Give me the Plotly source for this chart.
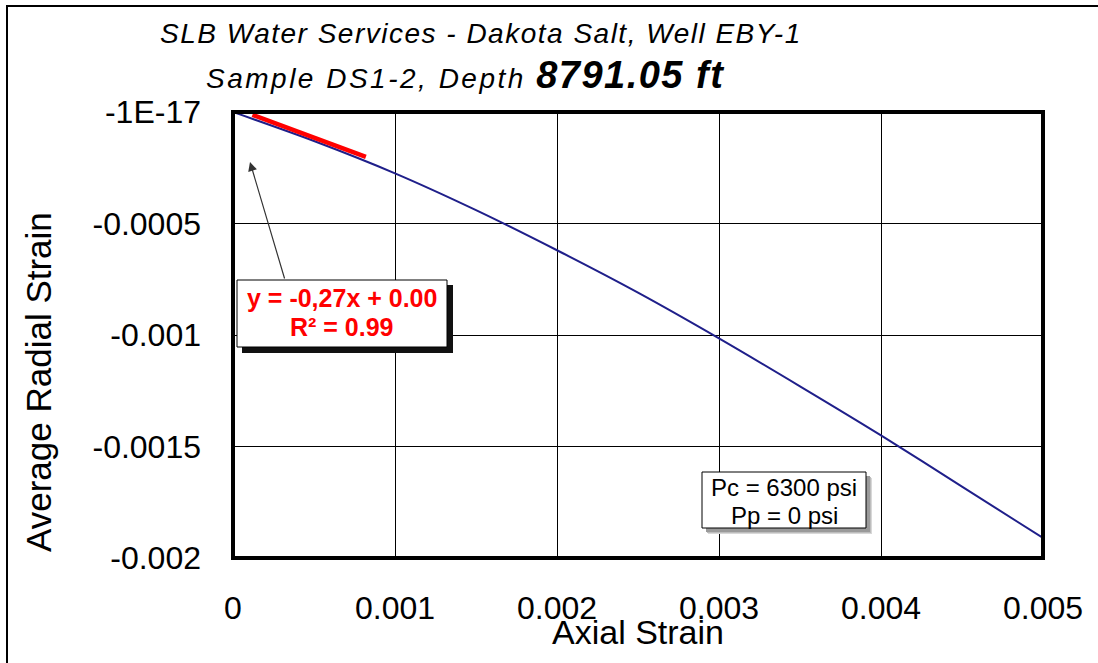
import plotly.graph_objects as go

# ---- data -------------------------------------------------------------
axial_strain = [0.0, 0.0005, 0.001, 0.0015, 0.002, 0.0025, 0.003, 0.0035, 0.004, 0.0045, 0.005]
radial_strain = [0.0, -0.00013, -0.000275, -0.00044, -0.00062, -0.00081, -0.001015,
                 -0.00123, -0.00145, -0.00168, -0.00191]

# linear fit over the initial portion of the curve
fit_slope = -0.27
fit_intercept = 0.00002
fit_x = [0.00012, 0.00082]
fit_y = [fit_slope * x + fit_intercept for x in fit_x]

x_ticks = [0, 0.001, 0.002, 0.003, 0.004, 0.005]
x_ticktext = ["0", "0.001", "0.002", "0.003", "0.004", "0.005"]
y_ticks = [0, -0.0005, -0.001, -0.0015, -0.002]
y_ticktext = ["-1E-17", "-0.0005", "-0.001", "-0.0015", "-0.002"]

# ---- layout helpers ---------------------------------------------------
W, H = 1098, 663
L, R, T, B = 233, 55, 112, 105
PW, PH = W - L - R, H - T - B


def px(x):
    return (x - L) / PW


def py(y):
    return (H - B - y) / PH


FONT = "Liberation Sans, Arial, sans-serif"

fig = go.Figure()

fig.add_trace(go.Scatter(
    x=axial_strain, y=radial_strain, mode="lines",
    line=dict(color="#1f1f8a", width=2, shape="spline", smoothing=0.8),
    showlegend=False, hoverinfo="skip",
))
fig.add_trace(go.Scatter(
    x=fit_x, y=fit_y, mode="lines",
    line=dict(color="#ff0000", width=4.5), showlegend=False, hoverinfo="skip",
))

shapes = []
# outer frame (left and top edges)
shapes.append(dict(type="line", xref="paper", yref="paper",
                   x0=px(7), x1=px(7), y0=py(6), y1=py(H + 5),
                   line=dict(color="black", width=2), layer="above"))
shapes.append(dict(type="line", xref="paper", yref="paper",
                   x0=px(6), x1=px(W), y0=py(6), y1=py(6),
                   line=dict(color="black", width=2), layer="above"))
# plot-area border
shapes.append(dict(type="rect", xref="paper", yref="paper",
                   x0=0, x1=1, y0=0, y1=1,
                   line=dict(color="black", width=4), layer="above"))

# equation box with dark shadow
shapes.append(dict(type="rect", xref="paper", yref="paper",
                   x0=px(242), x1=px(453), y0=py(285), y1=py(353),
                   fillcolor="#111111", line=dict(width=0), layer="above"))
shapes.append(dict(type="rect", xref="paper", yref="paper",
                   x0=px(237), x1=px(447), y0=py(280), y1=py(347),
                   fillcolor="white", line=dict(color="black", width=1), layer="above"))

# pressure box with soft grey shadow
for off, col in [(6, "#d8d8d8"), (5, "#bdbdbd"), (4, "#9a9a9a")]:
    shapes.append(dict(type="rect", xref="paper", yref="paper",
                       x0=px(702 + off), x1=px(866 + off), y0=py(472 + off), y1=py(528 + off),
                       fillcolor=col, line=dict(width=0), layer="above"))
shapes.append(dict(type="rect", xref="paper", yref="paper",
                   x0=px(702), x1=px(866), y0=py(472), y1=py(528),
                   fillcolor="white", line=dict(color="black", width=1), layer="above"))

annotations = []
# title
annotations.append(dict(
    xref="paper", yref="paper", x=px(481), y=py(33), xanchor="center", yanchor="middle",
    showarrow=False,
    text='<i><span style="letter-spacing:1.5px">SLB Water Services - Dakota Salt, Well EBY-1</span></i>',
    font=dict(family=FONT, size=28, color="black"),
))
annotations.append(dict(
    xref="paper", yref="paper", x=px(465), y=py(75), xanchor="center", yanchor="middle",
    showarrow=False,
    text='<i><span style="letter-spacing:2.5px">Sample DS1-2, Depth </span></i>'
         '<b><i><span style="font-size:38px;letter-spacing:1.5px">8791.05 ft</span></i></b>',
    font=dict(family=FONT, size=28, color="black"),
))
# axis titles
annotations.append(dict(
    xref="paper", yref="paper", x=px(638), y=py(632), xanchor="center", yanchor="middle",
    showarrow=False, text="Axial Strain",
    font=dict(family=FONT, size=34, color="black"),
))
annotations.append(dict(
    xref="paper", yref="paper", x=px(38), y=py(382), xanchor="center", yanchor="middle",
    showarrow=False, text="Average Radial Strain", textangle=-90,
    font=dict(family=FONT, size=35, color="black"),
))
# equation text
annotations.append(dict(
    xref="paper", yref="paper", x=px(342), y=py(298), xanchor="center", yanchor="middle",
    showarrow=False, text="<b>y = -0,27x + 0.00</b>",
    font=dict(family=FONT, size=25, color="#ff0000"),
))
annotations.append(dict(
    xref="paper", yref="paper", x=px(342), y=py(327), xanchor="center", yanchor="middle",
    showarrow=False, text="<b>R² = 0.99</b>",
    font=dict(family=FONT, size=25, color="#ff0000"),
))
# pressure text
annotations.append(dict(
    xref="paper", yref="paper", x=px(784), y=py(487), xanchor="center", yanchor="middle",
    showarrow=False, text="Pc = 6300 psi",
    font=dict(family=FONT, size=24, color="black"),
))
annotations.append(dict(
    xref="paper", yref="paper", x=px(784), y=py(515), xanchor="center", yanchor="middle",
    showarrow=False, text="Pp = 0 psi",
    font=dict(family=FONT, size=24, color="black"),
))
# arrow from equation box to fitted segment
annotations.append(dict(
    xref="paper", yref="paper", x=px(250), y=py(162),
    ax=35, ay=118, axref="pixel", ayref="pixel",
    text="", showarrow=True, arrowhead=2, arrowsize=1.5, arrowwidth=1.2,
    arrowcolor="#333333",
))

fig.update_layout(
    width=W, height=H,
    margin=dict(l=L, r=R, t=T, b=B),
    paper_bgcolor="white", plot_bgcolor="white",
    shapes=shapes, annotations=annotations,
    xaxis=dict(
        range=[0, 0.005], tickvals=x_ticks, ticktext=x_ticktext,
        showgrid=True, gridcolor="black", gridwidth=1, zeroline=False,
        showline=False, ticks="", ticklabelstandoff=28,
        tickfont=dict(family=FONT, size=32, color="black"),
    ),
    yaxis=dict(
        range=[-0.002, 0], tickvals=y_ticks, ticktext=y_ticktext,
        showgrid=True, gridcolor="black", gridwidth=1, zeroline=False,
        showline=False, ticks="", ticklabelstandoff=31,
        tickfont=dict(family=FONT, size=32, color="black"),
    ),
)

fig.write_html("out.html")
